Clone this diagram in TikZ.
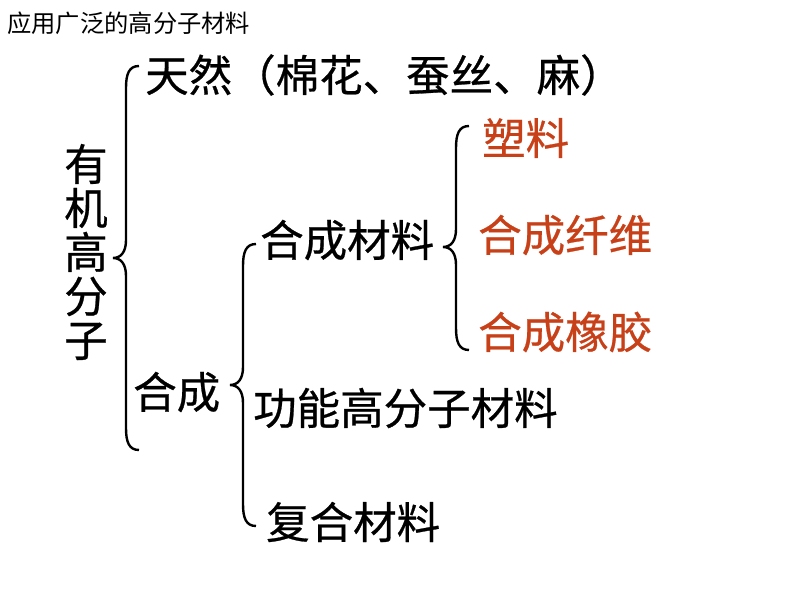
\documentclass[tikz,border=0pt]{standalone}
\usepackage{fontspec}
\setmainfont{Noto Sans CJK SC}[FakeBold=0.6]
\newfontfamily\titlefont{Noto Sans CJK SC}
\definecolor{synred}{RGB}{200,64,24}
\newcommand{\curly}[4]{% x, top, tip, bottom
	\draw[brace line] (#1+13,#2+2) .. controls (#1+3,#2+2) and (#1,#2+10) .. (#1,#2+24)
		-- (#1,#3-18) .. controls (#1,#3-6) and (#1-5,#3) .. (#1-13,#3)
		.. controls (#1-5,#3) and (#1,#3+6) .. (#1,#3+18)
		-- (#1,#4-24) .. controls (#1,#4-10) and (#1+3,#4-2) .. (#1+13,#4-2);}
\begin{document}
\begin{tikzpicture}[x=1pt,y=-1pt,
	big/.style={anchor=west,inner sep=0pt,font=\fontsize{43.5}{44}\selectfont},
	kind/.style={big,text=synred},
	brace line/.style={line width=2.4pt}]
	\useasboundingbox[fill=white] (0,0) rectangle (794,596);
	\node[anchor=west,inner sep=0pt,font=\titlefont\fontsize{24.3}{25}\selectfont] (title) at (7,23) {应用广泛的高分子材料};
	\node[inner sep=0pt,align=center,font=\fontsize{43.5}{44}\selectfont] (organic) at (86,252) {有\\机\\高\\分\\子};
	\node[big] (natural) at (145,75) {天然（棉花、蚕丝、麻）};
	\node[big] (synth) at (133,392) {合成};
	\node[big] (synmat) at (260,240) {合成材料};
	\node[big] (func) at (253,408) {功能高分子材料};
	\node[big] (comp) at (266,522) {复合材料};
	\node[kind] (plastic) at (482,138) {塑料};
	\node[kind] (fiber) at (478,235) {合成纤维};
	\node[kind] (rubber) at (478,332) {合成橡胶};
	\curly{126}{64}{258}{452}
	\curly{243}{242}{385}{528}
	\curly{456}{124}{247}{352}
\end{tikzpicture}
\end{document}
